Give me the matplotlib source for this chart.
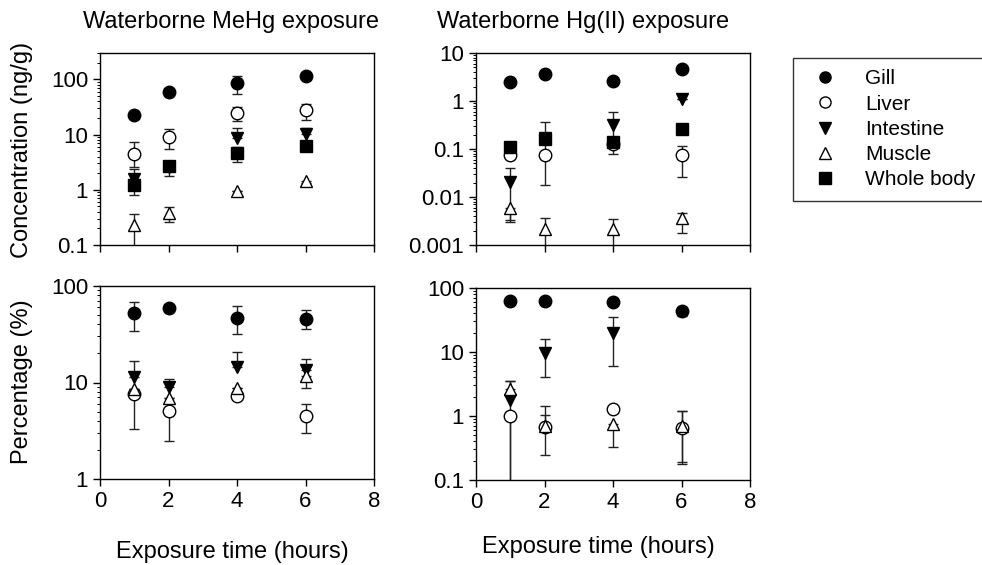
import numpy as np
import matplotlib
matplotlib.use("Agg")
import matplotlib.pyplot as plt
from matplotlib.lines import Line2D

plt.rcParams['font.family'] = ['Liberation Sans', 'DejaVu Sans']

nan = np.nan
hours = [1, 2, 4, 6]
tissues = ['Gill', 'Liver', 'Intestine', 'Muscle', 'Whole body']

# marker style per tissue (marker, face colour)
styles = {
    'Gill': ('o', 'black'),
    'Liver': ('o', 'white'),
    'Intestine': ('v', 'black'),
    'Muscle': ('^', 'white'),
    'Whole body': ('s', 'black'),
}

# --- waterborne MeHg, concentration (ng/g): mean, lower bar end, upper bar end
mehg_conc = {
    'Gill': [22.4, 59, 86, 115],
    'Liver': [4.5, 9.1, 24.6, 27.6],
    'Intestine': [1.6, 2.6, 8.7, 10.2],
    'Muscle': [0.23, 0.38, 0.96, 1.45],
    'Whole body': [1.22, 2.7, 4.55, 6.25],
}
mehg_conc_lo = {
    'Gill': [nan, nan, 54, nan],
    'Liver': [2.6, 5.4, 17.7, 18.2],
    'Intestine': [nan, 1.77, nan, nan],
    'Muscle': [0.05, 0.26, nan, 1.3],
    'Whole body': [0.79, nan, 3.2, nan],
}
mehg_conc_hi = {
    'Gill': [nan, nan, 117, nan],
    'Liver': [7.4, 12.5, 31.6, 36.5],
    'Intestine': [2.4, nan, 12.9, 12.9],
    'Muscle': [0.37, 0.49, nan, nan],
    'Whole body': [nan, nan, 6.0, nan],
}

# --- waterborne Hg(II), concentration (ng/g)
hg_conc = {
    'Gill': [2.5, 3.6, 2.6, 4.6],
    'Liver': [0.075, 0.075, 0.13, 0.075],
    'Intestine': [0.021, 0.17, 0.32, 1.08],
    'Muscle': [0.0058, 0.0022, 0.0022, 0.0036],
    'Whole body': [0.108, 0.162, 0.14, 0.26],
}
hg_conc_lo = {
    'Gill': [nan, nan, nan, nan],
    'Liver': [nan, 0.018, nan, 0.026],
    'Intestine': [0.003, nan, 0.08, nan],
    'Muscle': [0.0033, 0.0005, 0.0005, 0.0018],
    'Whole body': [nan, nan, nan, nan],
}
hg_conc_hi = {
    'Gill': [nan, nan, nan, nan],
    'Liver': [nan, 0.36, nan, 0.115],
    'Intestine': [0.04, nan, 0.58, nan],
    'Muscle': [nan, 0.0036, 0.0035, 0.0047],
    'Whole body': [nan, nan, nan, nan],
}

# --- waterborne MeHg, percentage (%)
mehg_pct = {
    'Gill': [52, 59, 47, 46],
    'Liver': [7.6, 5.1, 7.2, 4.5],
    'Intestine': [11.3, 8.9, 14.6, 13.5],
    'Muscle': [8.6, 6.9, 8.7, 11.7],
}
mehg_pct_lo = {
    'Gill': [34, nan, 32, 35.6],
    'Liver': [3.3, 2.5, nan, 3.0],
    'Intestine': [nan, nan, nan, nan],
    'Muscle': [nan, nan, nan, 8.7],
}
mehg_pct_hi = {
    'Gill': [69, nan, 62.5, 57],
    'Liver': [nan, nan, nan, 6.0],
    'Intestine': [16.7, 11, 20.6, 17.4],
    'Muscle': [nan, nan, nan, nan],
}

# --- waterborne Hg(II), percentage (%)
hg_pct = {
    'Gill': [63, 63, 60, 43],
    'Liver': [1.0, 0.68, 1.27, 0.65],
    'Intestine': [1.8, 9.8, 20, nan],
    'Muscle': [2.6, 0.7, 0.74, 0.7],
}
hg_pct_lo = {
    'Gill': [nan, nan, nan, 37],
    'Liver': [0.05, 0.25, 1.15, 0.18],
    'Intestine': [0.05, 4.1, 6.1, nan],
    'Muscle': [nan, nan, 0.33, 0.19],
}
hg_pct_hi = {
    'Gill': [nan, nan, nan, 50],
    'Liver': [nan, 1.02, 1.4, 1.2],
    'Intestine': [3.5, 16, 34.6, nan],
    'Muscle': [3.5, 1.45, nan, 1.2],
}


def draw_panel(ax, means, lows, highs, ylim, ticks, ticklabels, xlabels):
    for t in tissues:
        if t not in means:
            continue
        mk, fc = styles[t]
        y = np.array(means[t], dtype=float)
        lo = np.array(lows[t], dtype=float)
        hi = np.array(highs[t], dtype=float)
        lo = np.where(np.isnan(lo), y, lo)
        hi = np.where(np.isnan(hi), y, hi)
        ax.errorbar(hours, y, yerr=[y - lo, hi - y], fmt='none', ecolor='#222222',
                    elinewidth=1.0, capsize=3.5, capthick=1.0, zorder=2)
        ax.plot(hours, y, linestyle='none', marker=mk, markersize=9,
                markerfacecolor=fc, markeredgecolor='black', markeredgewidth=1.0,
                zorder=3)
    ax.set_yscale('log')
    ax.set_ylim(*ylim)
    ax.set_xlim(0, 8)
    ax.set_xticks([0, 2, 4, 6, 8])
    if xlabels:
        ax.set_xticklabels(['0', '2', '4', '6', '8'])
    else:
        ax.set_xticklabels([])
    ax.set_yticks(ticks)
    ax.set_yticklabels(ticklabels)
    ax.tick_params(axis='both', which='major', direction='out', length=5, width=1,
                   labelsize=16, top=False, right=False)
    ax.tick_params(axis='y', which='minor', direction='out', length=2.5, width=0.7,
                   right=False)
    ax.yaxis.set_minor_locator(matplotlib.ticker.LogLocator(subs=np.arange(2, 10)))
    ax.yaxis.set_minor_formatter(matplotlib.ticker.NullFormatter())
    for s in ax.spines.values():
        s.set_linewidth(1.0)


fig = plt.figure(figsize=(9.82, 5.65), dpi=100)
W, H = 982.0, 565.0


def axes_px(x0, x1, y0, y1):
    return fig.add_axes([x0 / W, 1 - y1 / H, (x1 - x0) / W, (y1 - y0) / H])


ax_tl = axes_px(100, 374, 53, 245)
ax_tr = axes_px(476, 750, 53, 245)
ax_bl = axes_px(100, 374, 286, 479)
ax_br = axes_px(476, 750, 288, 480)

draw_panel(ax_tl, mehg_conc, mehg_conc_lo, mehg_conc_hi, (0.1, 300),
           [0.1, 1, 10, 100], ['0.1', '1', '10', '100'], False)
draw_panel(ax_tr, hg_conc, hg_conc_lo, hg_conc_hi, (0.001, 10),
           [0.001, 0.01, 0.1, 1, 10], ['0.001', '0.01', '0.1', '1', '10'], False)
draw_panel(ax_bl, mehg_pct, mehg_pct_lo, mehg_pct_hi, (1, 100),
           [1, 10, 100], ['1', '10', '100'], True)
draw_panel(ax_br, hg_pct, hg_pct_lo, hg_pct_hi, (0.1, 100),
           [0.1, 1, 10, 100], ['0.1', '1', '10', '100'], True)

fig.text(231 / W, 1 - 22 / H, 'Waterborne MeHg exposure', ha='center', va='center', fontsize=17)
fig.text(583 / W, 1 - 22 / H, 'Waterborne Hg(II) exposure', ha='center', va='center', fontsize=17)
fig.text(232 / W, 1 - 552 / H, 'Exposure time (hours)', ha='center', va='center', fontsize=17)
fig.text(598 / W, 1 - 547 / H, 'Exposure time (hours)', ha='center', va='center', fontsize=17)
fig.text(22 / W, 1 - 150 / H, 'Concentration (ng/g)', ha='center', va='center',
         rotation=90, fontsize=17)
fig.text(22 / W, 1 - 382 / H, 'Percentage (%)', ha='center', va='center',
         rotation=90, fontsize=17)

handles = []
for t in tissues:
    mk, fc = styles[t]
    handles.append(Line2D([], [], linestyle='none', marker=mk, markersize=8,
                          markerfacecolor=fc, markeredgecolor='black', label=t))
leg = fig.legend(handles=handles, loc='upper left', bbox_to_anchor=(793 / W, 1 - 58 / H),
                 frameon=True, fancybox=False, fontsize=15, handletextpad=0.9,
                 borderpad=0.55, labelspacing=0.3, borderaxespad=0.0)
leg.get_frame().set_edgecolor('black')
leg.get_frame().set_linewidth(1.0)

fig.savefig('out.png', dpi=100)
